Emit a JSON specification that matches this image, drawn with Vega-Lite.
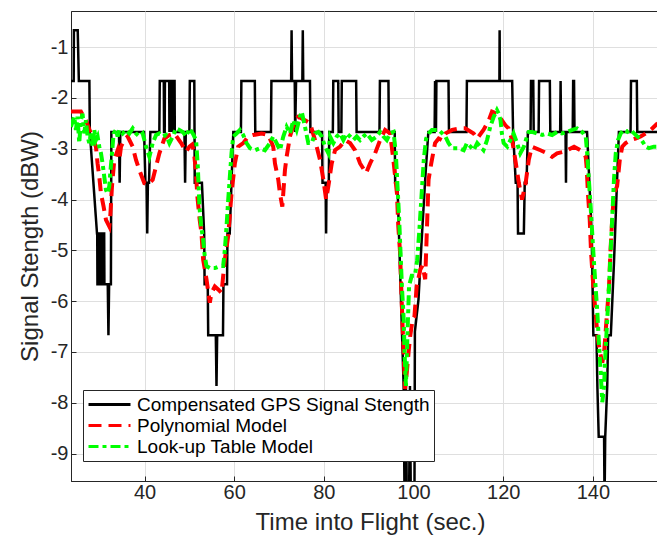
{
  "$schema": "https://vega.github.io/schema/vega-lite/v6.json",
  "width": 586,
  "height": 470,
  "autosize": {"type": "none"},
  "padding": {"left": 71, "top": 11, "right": 0, "bottom": 57},
  "background": "white",
  "config": {
    "view": {"stroke": "#262626", "strokeWidth": 1},
    "font": "Liberation Sans",
    "axis": {
      "domainColor": "#262626",
      "tickColor": "#262626",
      "gridColor": "#dfdfdf",
      "gridWidth": 1,
      "labelColor": "#262626",
      "titleColor": "#262626",
      "labelFont": "Liberation Sans",
      "titleFont": "Liberation Sans",
      "labelFontSize": 20,
      "titleFontSize": 24,
      "titleFontWeight": "normal",
      "tickSize": -5,
      "tickWidth": 1
    }
  },
  "datasets": {
    "d": [
      {"t":23.5,"v":-1.67,"s":"a"},{"t":24.2,"v":-1.67,"s":"a"},{"t":24.25,"v":-0.67,"s":"a"},{"t":25.1,"v":-0.67,"s":"a"},{"t":25.35,"v":-1.67,"s":"a"},{"t":27.7,"v":-1.67,"s":"a"},{"t":27.8,"v":-2.67,"s":"a"},{"t":29.4,"v":-4.67,"s":"a"},{"t":29.45,"v":-4.67,"s":"a"},{"t":29.5,"v":-5.67,"s":"a"},{"t":29.7,"v":-5.67,"s":"a"},{"t":29.75,"v":-4.67,"s":"a"},{"t":29.9,"v":-4.67,"s":"a"},{"t":29.95,"v":-5.67,"s":"a"},{"t":30.2,"v":-5.67,"s":"a"},{"t":30.25,"v":-4.67,"s":"a"},{"t":30.4,"v":-4.67,"s":"a"},{"t":30.45,"v":-5.67,"s":"a"},{"t":30.7,"v":-5.67,"s":"a"},{"t":30.75,"v":-4.67,"s":"a"},{"t":31.0,"v":-4.67,"s":"a"},{"t":31.05,"v":-5.67,"s":"a"},{"t":31.8,"v":-5.67,"s":"a"},{"t":31.95,"v":-6.67,"s":"a"},{"t":32.1,"v":-5.67,"s":"a"},{"t":32.5,"v":-5.67,"s":"a"},{"t":32.6,"v":-2.67,"s":"a"},{"t":34.3,"v":-2.67,"s":"a"},{"t":34.45,"v":-3.67,"s":"a"},{"t":34.6,"v":-2.67,"s":"a"},{"t":39.9,"v":-2.67,"s":"a"},{"t":40.2,"v":-3.67,"s":"a"},{"t":40.45,"v":-3.67,"s":"a"},{"t":40.6,"v":-4.67,"s":"a"},{"t":40.75,"v":-3.67,"s":"a"},{"t":41.0,"v":-3.67,"s":"a"},{"t":41.3,"v":-2.67,"s":"a"},{"t":43.3,"v":-2.67,"s":"a"},{"t":43.4,"v":-1.67,"s":"a"},{"t":44.3,"v":-1.67,"s":"a"},{"t":44.35,"v":-2.67,"s":"a"},{"t":44.5,"v":-2.67,"s":"a"},{"t":44.55,"v":-1.67,"s":"a"},{"t":45.5,"v":-1.67,"s":"a"},{"t":45.55,"v":-2.67,"s":"a"},{"t":45.65,"v":-1.67,"s":"a"},{"t":45.9,"v":-1.67,"s":"a"},{"t":45.95,"v":-2.67,"s":"a"},{"t":46.05,"v":-1.67,"s":"a"},{"t":46.3,"v":-1.67,"s":"a"},{"t":46.35,"v":-2.67,"s":"a"},{"t":46.45,"v":-1.67,"s":"a"},{"t":46.7,"v":-1.67,"s":"a"},{"t":46.75,"v":-2.67,"s":"a"},{"t":48.9,"v":-2.67,"s":"a"},{"t":49.05,"v":-3.67,"s":"a"},{"t":49.2,"v":-2.67,"s":"a"},{"t":50.0,"v":-2.67,"s":"a"},{"t":50.1,"v":-1.67,"s":"a"},{"t":51.1,"v":-1.67,"s":"a"},{"t":51.2,"v":-3.67,"s":"a"},{"t":52.8,"v":-3.67,"s":"a"},{"t":53.3,"v":-4.67,"s":"a"},{"t":53.4,"v":-5.67,"s":"a"},{"t":54.1,"v":-5.67,"s":"a"},{"t":54.2,"v":-6.67,"s":"a"},{"t":55.9,"v":-6.67,"s":"a"},{"t":56.05,"v":-7.67,"s":"a"},{"t":56.2,"v":-6.67,"s":"a"},{"t":57.5,"v":-6.67,"s":"a"},{"t":57.6,"v":-5.67,"s":"a"},{"t":58.4,"v":-5.67,"s":"a"},{"t":58.5,"v":-4.67,"s":"a"},{"t":59.0,"v":-4.67,"s":"a"},{"t":59.8,"v":-2.67,"s":"a"},{"t":61.5,"v":-2.67,"s":"a"},{"t":61.6,"v":-1.67,"s":"a"},{"t":64.6,"v":-1.67,"s":"a"},{"t":64.7,"v":-2.67,"s":"a"},{"t":68.2,"v":-2.67,"s":"a"},{"t":68.3,"v":-1.67,"s":"a"},{"t":72.7,"v":-1.67,"s":"a"},{"t":72.8,"v":-0.67,"s":"a"},{"t":72.9,"v":-1.67,"s":"a"},{"t":73.5,"v":-1.67,"s":"a"},{"t":73.6,"v":-2.67,"s":"a"},{"t":73.8,"v":-1.67,"s":"a"},{"t":75.2,"v":-1.67,"s":"a"},{"t":75.3,"v":-0.67,"s":"a"},{"t":75.4,"v":-1.67,"s":"a"},{"t":76.9,"v":-1.67,"s":"a"},{"t":77.0,"v":-2.67,"s":"a"},{"t":79.6,"v":-2.67,"s":"a"},{"t":79.7,"v":-3.67,"s":"a"},{"t":80.4,"v":-3.67,"s":"a"},{"t":80.5,"v":-4.67,"s":"a"},{"t":80.6,"v":-3.67,"s":"a"},{"t":81.1,"v":-3.67,"s":"a"},{"t":81.2,"v":-2.67,"s":"a"},{"t":82.0,"v":-2.67,"s":"a"},{"t":82.1,"v":-1.67,"s":"a"},{"t":83.2,"v":-1.67,"s":"a"},{"t":83.3,"v":-2.67,"s":"a"},{"t":83.9,"v":-2.67,"s":"a"},{"t":84.0,"v":-1.67,"s":"a"},{"t":87.2,"v":-1.67,"s":"a"},{"t":87.3,"v":-2.67,"s":"a"},{"t":92.4,"v":-2.67,"s":"a"},{"t":92.5,"v":-1.67,"s":"a"},{"t":94.4,"v":-1.67,"s":"a"},{"t":94.5,"v":-2.67,"s":"a"},{"t":95.8,"v":-2.67,"s":"a"},{"t":95.9,"v":-3.67,"s":"a"},{"t":96.4,"v":-3.67,"s":"a"},{"t":97.8,"v":-7.7,"s":"a"},{"t":98.0,"v":-10,"s":"a"},{"t":98.3,"v":-7.67,"s":"a"},{"t":98.5,"v":-10,"s":"a"},{"t":99.0,"v":-10,"s":"a"},{"t":99.2,"v":-7.67,"s":"a"},{"t":99.4,"v":-10,"s":"a"},{"t":100.2,"v":-10,"s":"a"},{"t":100.3,"v":-6.6,"s":"a"},{"t":101.1,"v":-5.97,"s":"a"},{"t":101.9,"v":-4.66,"s":"a"},{"t":102.6,"v":-3.6,"s":"a"},{"t":103.3,"v":-2.67,"s":"a"},{"t":104.7,"v":-2.67,"s":"a"},{"t":104.8,"v":-1.67,"s":"a"},{"t":104.85,"v":-2.67,"s":"a"},{"t":104.95,"v":-1.67,"s":"a"},{"t":105.0,"v":-2.67,"s":"a"},{"t":105.1,"v":-1.67,"s":"a"},{"t":107.8,"v":-1.67,"s":"a"},{"t":107.9,"v":-2.67,"s":"a"},{"t":111.8,"v":-2.67,"s":"a"},{"t":111.9,"v":-1.67,"s":"a"},{"t":119.15,"v":-1.67,"s":"a"},{"t":119.2,"v":-0.67,"s":"a"},{"t":119.25,"v":-1.67,"s":"a"},{"t":122.0,"v":-1.67,"s":"a"},{"t":122.2,"v":-2.67,"s":"a"},{"t":122.8,"v":-3.67,"s":"a"},{"t":123.2,"v":-3.67,"s":"a"},{"t":123.3,"v":-4.67,"s":"a"},{"t":124.6,"v":-4.67,"s":"a"},{"t":124.8,"v":-3.67,"s":"a"},{"t":125.2,"v":-3.67,"s":"a"},{"t":125.5,"v":-2.67,"s":"a"},{"t":126.1,"v":-2.67,"s":"a"},{"t":126.2,"v":-1.67,"s":"a"},{"t":126.7,"v":-1.67,"s":"a"},{"t":126.8,"v":-2.67,"s":"a"},{"t":127.9,"v":-2.67,"s":"a"},{"t":128.0,"v":-1.67,"s":"a"},{"t":130.4,"v":-1.67,"s":"a"},{"t":130.5,"v":-2.67,"s":"a"},{"t":132.7,"v":-2.67,"s":"a"},{"t":132.8,"v":-1.67,"s":"a"},{"t":132.9,"v":-2.67,"s":"a"},{"t":133.9,"v":-2.67,"s":"a"},{"t":134.0,"v":-3.67,"s":"a"},{"t":134.1,"v":-2.67,"s":"a"},{"t":135.5,"v":-2.67,"s":"a"},{"t":135.6,"v":-1.67,"s":"a"},{"t":135.8,"v":-1.67,"s":"a"},{"t":135.9,"v":-2.67,"s":"a"},{"t":138.7,"v":-2.67,"s":"a"},{"t":139.7,"v":-4.6,"s":"a"},{"t":139.85,"v":-5.25,"s":"a"},{"t":140.1,"v":-6.67,"s":"a"},{"t":140.8,"v":-6.67,"s":"a"},{"t":141.0,"v":-7.67,"s":"a"},{"t":141.3,"v":-8.67,"s":"a"},{"t":142.5,"v":-8.67,"s":"a"},{"t":142.6,"v":-10,"s":"a"},{"t":142.75,"v":-8.67,"s":"a"},{"t":143.2,"v":-7.67,"s":"a"},{"t":143.4,"v":-6.67,"s":"a"},{"t":144.0,"v":-6.67,"s":"a"},{"t":144.7,"v":-5.25,"s":"a"},{"t":145.8,"v":-2.67,"s":"a"},{"t":148.4,"v":-2.67,"s":"a"},{"t":148.5,"v":-1.67,"s":"a"},{"t":149.8,"v":-1.67,"s":"a"},{"t":149.9,"v":-2.67,"s":"a"},{"t":156,"v":-2.67,"s":"a"},

      {"t":23.57,"v":-2.27,"s":"b"},{"t":25.81,"v":-2.27,"s":"b"},{"t":26.93,"v":-2.44,"s":"b"},{"t":28.04,"v":-2.7,"s":"b"},{"t":29.16,"v":-2.96,"s":"b"},{"t":29.53,"v":-3.29,"s":"b"},{"t":29.91,"v":-3.55,"s":"b"},{"t":30.28,"v":-3.88,"s":"b"},{"t":30.87,"v":-4.14,"s":"b"},{"t":31.4,"v":-4.4,"s":"b"},{"t":32.14,"v":-4.53,"s":"b"},{"t":32.36,"v":-4.33,"s":"b"},{"t":32.74,"v":-3.74,"s":"b"},{"t":33.26,"v":-3.22,"s":"b"},{"t":34.0,"v":-3.03,"s":"b"},{"t":34.38,"v":-3.22,"s":"b"},{"t":34.75,"v":-2.96,"s":"b"},{"t":35.49,"v":-2.83,"s":"b"},{"t":36.24,"v":-2.76,"s":"b"},{"t":37.36,"v":-2.96,"s":"b"},{"t":38.1,"v":-3.22,"s":"b"},{"t":38.84,"v":-3.42,"s":"b"},{"t":39.96,"v":-3.68,"s":"b"},{"t":40.71,"v":-3.71,"s":"b"},{"t":41.82,"v":-3.61,"s":"b"},{"t":42.57,"v":-3.35,"s":"b"},{"t":43.31,"v":-3.09,"s":"b"},{"t":44.43,"v":-2.8,"s":"b"},{"t":45.55,"v":-2.73,"s":"b"},{"t":46.67,"v":-2.7,"s":"b"},{"t":48.16,"v":-2.89,"s":"b"},{"t":49.27,"v":-3.06,"s":"b"},{"t":50.02,"v":-2.96,"s":"b"},{"t":50.6,"v":-2.92,"s":"b"},{"t":51.0,"v":-3.05,"s":"b"},{"t":51.4,"v":-3.4,"s":"b"},{"t":51.8,"v":-3.95,"s":"b"},{"t":52.3,"v":-4.4,"s":"b"},{"t":52.7,"v":-4.66,"s":"b"},{"t":53.07,"v":-5.18,"s":"b"},{"t":53.82,"v":-5.57,"s":"b"},{"t":54.56,"v":-6.03,"s":"b"},{"t":54.93,"v":-5.84,"s":"b"},{"t":55.68,"v":-5.71,"s":"b"},{"t":56.42,"v":-5.77,"s":"b"},{"t":57.17,"v":-5.84,"s":"b"},{"t":57.91,"v":-5.18,"s":"b"},{"t":58.66,"v":-4.72,"s":"b"},{"t":59.4,"v":-3.88,"s":"b"},{"t":60.15,"v":-3.29,"s":"b"},{"t":60.89,"v":-2.96,"s":"b"},{"t":62.01,"v":-2.89,"s":"b"},{"t":63.13,"v":-2.76,"s":"b"},{"t":64.25,"v":-2.73,"s":"b"},{"t":66.11,"v":-2.7,"s":"b"},{"t":67.6,"v":-2.73,"s":"b"},{"t":68.71,"v":-2.96,"s":"b"},{"t":69.09,"v":-3.29,"s":"b"},{"t":69.83,"v":-3.61,"s":"b"},{"t":70.2,"v":-3.88,"s":"b"},{"t":70.73,"v":-4.14,"s":"b"},{"t":71.32,"v":-3.42,"s":"b"},{"t":71.69,"v":-3.16,"s":"b"},{"t":72.44,"v":-2.76,"s":"b"},{"t":73.56,"v":-2.44,"s":"b"},{"t":74.3,"v":-2.37,"s":"b"},{"t":75.79,"v":-2.44,"s":"b"},{"t":76.91,"v":-2.5,"s":"b"},{"t":78.03,"v":-2.83,"s":"b"},{"t":79.14,"v":-3.22,"s":"b"},{"t":79.89,"v":-3.61,"s":"b"},{"t":80.5,"v":-4.0,"s":"b"},{"t":81.0,"v":-3.74,"s":"b"},{"t":81.75,"v":-3.29,"s":"b"},{"t":82.49,"v":-3.03,"s":"b"},{"t":83.61,"v":-2.96,"s":"b"},{"t":84.73,"v":-2.83,"s":"b"},{"t":85.84,"v":-2.89,"s":"b"},{"t":86.96,"v":-3.03,"s":"b"},{"t":88.08,"v":-3.29,"s":"b"},{"t":89.42,"v":-3.48,"s":"b"},{"t":90.31,"v":-3.29,"s":"b"},{"t":91.43,"v":-3.09,"s":"b"},{"t":92.55,"v":-2.83,"s":"b"},{"t":93.66,"v":-2.63,"s":"b"},{"t":94.78,"v":-2.7,"s":"b"},{"t":95.5,"v":-3.22,"s":"b"},{"t":96.3,"v":-3.88,"s":"b"},{"t":96.6,"v":-4.53,"s":"b"},{"t":97.0,"v":-5.05,"s":"b"},{"t":97.25,"v":-5.71,"s":"b"},{"t":97.5,"v":-6.36,"s":"b"},{"t":97.8,"v":-7.01,"s":"b"},{"t":98.1,"v":-7.73,"s":"b"},{"t":98.5,"v":-7.4,"s":"b"},{"t":98.9,"v":-7.0,"s":"b"},{"t":99.25,"v":-6.69,"s":"b"},{"t":99.8,"v":-6.36,"s":"b"},{"t":100.2,"v":-6.3,"s":"b"},{"t":100.7,"v":-5.71,"s":"b"},{"t":101.5,"v":-5.38,"s":"b"},{"t":102.0,"v":-5.3,"s":"b"},{"t":102.6,"v":-5.57,"s":"b"},{"t":102.9,"v":-4.8,"s":"b"},{"t":103.35,"v":-3.61,"s":"b"},{"t":103.95,"v":-3.29,"s":"b"},{"t":104.8,"v":-2.89,"s":"b"},{"t":105.6,"v":-2.8,"s":"b"},{"t":106.3,"v":-2.83,"s":"b"},{"t":107.1,"v":-2.7,"s":"b"},{"t":108.6,"v":-2.63,"s":"b"},{"t":110.43,"v":-2.6,"s":"b"},{"t":111.5,"v":-2.6,"s":"b"},{"t":113.4,"v":-2.7,"s":"b"},{"t":114.2,"v":-2.8,"s":"b"},{"t":115.6,"v":-2.63,"s":"b"},{"t":116.8,"v":-2.44,"s":"b"},{"t":117.5,"v":-2.27,"s":"b"},{"t":118.6,"v":-2.31,"s":"b"},{"t":119.4,"v":-2.4,"s":"b"},{"t":120.5,"v":-2.54,"s":"b"},{"t":121.2,"v":-2.6,"s":"b"},{"t":122.0,"v":-2.83,"s":"b"},{"t":122.7,"v":-3.22,"s":"b"},{"t":123.5,"v":-3.68,"s":"b"},{"t":124.2,"v":-4.0,"s":"b"},{"t":125.0,"v":-3.68,"s":"b"},{"t":125.7,"v":-3.22,"s":"b"},{"t":126.4,"v":-2.96,"s":"b"},{"t":128.3,"v":-3.03,"s":"b"},{"t":129.8,"v":-3.09,"s":"b"},{"t":130.9,"v":-3.16,"s":"b"},{"t":132.0,"v":-3.09,"s":"b"},{"t":133.5,"v":-3.06,"s":"b"},{"t":134.3,"v":-3.03,"s":"b"},{"t":135.8,"v":-2.96,"s":"b"},{"t":137.2,"v":-3.03,"s":"b"},{"t":138.4,"v":-3.16,"s":"b"},{"t":138.6,"v":-3.35,"s":"b"},{"t":138.9,"v":-3.88,"s":"b"},{"t":139.3,"v":-4.4,"s":"b"},{"t":139.6,"v":-5.05,"s":"b"},{"t":140.1,"v":-5.71,"s":"b"},{"t":140.6,"v":-6.23,"s":"b"},{"t":141.1,"v":-6.75,"s":"b"},{"t":141.6,"v":-7.01,"s":"b"},{"t":142.1,"v":-7.21,"s":"b"},{"t":142.5,"v":-7.01,"s":"b"},{"t":143.05,"v":-6.36,"s":"b"},{"t":143.6,"v":-5.71,"s":"b"},{"t":143.9,"v":-5.05,"s":"b"},{"t":144.3,"v":-4.4,"s":"b"},{"t":144.7,"v":-3.88,"s":"b"},{"t":145.4,"v":-3.74,"s":"b"},{"t":146.0,"v":-3.22,"s":"b"},{"t":146.55,"v":-2.96,"s":"b"},{"t":147.3,"v":-2.89,"s":"b"},{"t":148.4,"v":-2.83,"s":"b"},{"t":149.5,"v":-2.8,"s":"b"},{"t":150.65,"v":-2.76,"s":"b"},{"t":151.8,"v":-2.7,"s":"b"},{"t":152.9,"v":-2.63,"s":"b"},{"t":154.45,"v":-2.5,"s":"b"},

      {"t":23.57,"v":-2.57,"s":"c"},{"t":24.32,"v":-2.37,"s":"c"},{"t":24.69,"v":-2.63,"s":"c"},{"t":25.06,"v":-2.37,"s":"c"},{"t":25.44,"v":-2.89,"s":"c"},{"t":25.81,"v":-2.44,"s":"c"},{"t":26.18,"v":-2.31,"s":"c"},{"t":26.55,"v":-2.7,"s":"c"},{"t":26.93,"v":-2.44,"s":"c"},{"t":27.3,"v":-2.76,"s":"c"},{"t":27.67,"v":-2.89,"s":"c"},{"t":28.04,"v":-2.7,"s":"c"},{"t":28.42,"v":-2.96,"s":"c"},{"t":28.79,"v":-2.63,"s":"c"},{"t":29.16,"v":-2.83,"s":"c"},{"t":29.53,"v":-2.76,"s":"c"},{"t":29.91,"v":-2.96,"s":"c"},{"t":30.28,"v":-3.09,"s":"c"},{"t":30.65,"v":-3.29,"s":"c"},{"t":31.02,"v":-3.55,"s":"c"},{"t":31.4,"v":-3.81,"s":"c"},{"t":31.77,"v":-3.88,"s":"c"},{"t":32.14,"v":-3.74,"s":"c"},{"t":32.36,"v":-3.48,"s":"c"},{"t":32.74,"v":-3.09,"s":"c"},{"t":33.11,"v":-2.7,"s":"c"},{"t":33.63,"v":-2.63,"s":"c"},{"t":34.0,"v":-2.76,"s":"c"},{"t":34.38,"v":-2.63,"s":"c"},{"t":35.12,"v":-2.7,"s":"c"},{"t":35.87,"v":-2.63,"s":"c"},{"t":36.61,"v":-2.7,"s":"c"},{"t":37.36,"v":-2.6,"s":"c"},{"t":38.1,"v":-2.7,"s":"c"},{"t":38.84,"v":-2.76,"s":"c"},{"t":39.59,"v":-2.7,"s":"c"},{"t":40.33,"v":-2.96,"s":"c"},{"t":41.08,"v":-3.16,"s":"c"},{"t":41.82,"v":-2.89,"s":"c"},{"t":42.57,"v":-2.73,"s":"c"},{"t":43.31,"v":-2.7,"s":"c"},{"t":44.06,"v":-2.76,"s":"c"},{"t":44.8,"v":-2.73,"s":"c"},{"t":45.55,"v":-2.89,"s":"c"},{"t":46.29,"v":-2.76,"s":"c"},{"t":47.04,"v":-2.6,"s":"c"},{"t":47.78,"v":-2.63,"s":"c"},{"t":48.53,"v":-2.67,"s":"c"},{"t":49.27,"v":-2.76,"s":"c"},{"t":50.02,"v":-2.6,"s":"c"},{"t":50.76,"v":-2.7,"s":"c"},{"t":51.5,"v":-2.83,"s":"c"},{"t":51.88,"v":-3.35,"s":"c"},{"t":52.25,"v":-4.14,"s":"c"},{"t":52.6,"v":-4.5,"s":"c"},{"t":53.07,"v":-4.79,"s":"c"},{"t":53.44,"v":-5.12,"s":"c"},{"t":53.82,"v":-5.31,"s":"c"},{"t":54.56,"v":-5.35,"s":"c"},{"t":55.68,"v":-5.35,"s":"c"},{"t":56.8,"v":-5.31,"s":"c"},{"t":57.54,"v":-5.31,"s":"c"},{"t":57.91,"v":-4.99,"s":"c"},{"t":58.29,"v":-4.53,"s":"c"},{"t":58.66,"v":-4.01,"s":"c"},{"t":59.03,"v":-3.55,"s":"c"},{"t":59.4,"v":-3.09,"s":"c"},{"t":59.78,"v":-2.76,"s":"c"},{"t":60.52,"v":-2.7,"s":"c"},{"t":61.27,"v":-2.63,"s":"c"},{"t":62.01,"v":-2.73,"s":"c"},{"t":62.76,"v":-2.89,"s":"c"},{"t":63.5,"v":-2.99,"s":"c"},{"t":64.62,"v":-3.03,"s":"c"},{"t":65.73,"v":-2.99,"s":"c"},{"t":66.85,"v":-3.03,"s":"c"},{"t":67.97,"v":-2.89,"s":"c"},{"t":68.71,"v":-2.76,"s":"c"},{"t":69.46,"v":-2.89,"s":"c"},{"t":70.2,"v":-3.03,"s":"c"},{"t":70.95,"v":-2.76,"s":"c"},{"t":71.69,"v":-2.57,"s":"c"},{"t":72.44,"v":-2.7,"s":"c"},{"t":73.18,"v":-2.44,"s":"c"},{"t":73.93,"v":-2.63,"s":"c"},{"t":74.67,"v":-2.37,"s":"c"},{"t":75.05,"v":-2.27,"s":"c"},{"t":75.79,"v":-2.57,"s":"c"},{"t":76.53,"v":-2.89,"s":"c"},{"t":77.28,"v":-2.89,"s":"c"},{"t":78.03,"v":-2.7,"s":"c"},{"t":78.77,"v":-2.67,"s":"c"},{"t":79.52,"v":-2.76,"s":"c"},{"t":80.26,"v":-2.96,"s":"c"},{"t":81.0,"v":-3.09,"s":"c"},{"t":81.37,"v":-2.76,"s":"c"},{"t":82.12,"v":-2.89,"s":"c"},{"t":82.86,"v":-2.76,"s":"c"},{"t":83.61,"v":-2.7,"s":"c"},{"t":84.35,"v":-2.83,"s":"c"},{"t":85.1,"v":-2.7,"s":"c"},{"t":85.84,"v":-2.76,"s":"c"},{"t":86.59,"v":-2.83,"s":"c"},{"t":87.33,"v":-2.76,"s":"c"},{"t":88.08,"v":-2.83,"s":"c"},{"t":88.82,"v":-2.76,"s":"c"},{"t":89.57,"v":-2.7,"s":"c"},{"t":90.68,"v":-2.83,"s":"c"},{"t":91.8,"v":-2.76,"s":"c"},{"t":92.55,"v":-2.67,"s":"c"},{"t":93.29,"v":-2.76,"s":"c"},{"t":94.04,"v":-2.83,"s":"c"},{"t":94.78,"v":-2.7,"s":"c"},{"t":95.53,"v":-2.67,"s":"c"},{"t":96.05,"v":-3.09,"s":"c"},{"t":96.5,"v":-3.87,"s":"c"},{"t":96.8,"v":-4.4,"s":"c"},{"t":97.1,"v":-5.05,"s":"c"},{"t":97.4,"v":-5.7,"s":"c"},{"t":97.8,"v":-6.36,"s":"c"},{"t":98.0,"v":-7.0,"s":"c"},{"t":98.3,"v":-7.67,"s":"c"},{"t":98.7,"v":-6.5,"s":"c"},{"t":99.0,"v":-5.7,"s":"c"},{"t":99.6,"v":-5.5,"s":"c"},{"t":100.3,"v":-5.5,"s":"c"},{"t":100.8,"v":-5.2,"s":"c"},{"t":101.3,"v":-4.6,"s":"c"},{"t":101.8,"v":-3.9,"s":"c"},{"t":102.3,"v":-3.2,"s":"c"},{"t":102.8,"v":-2.8,"s":"c"},{"t":103.4,"v":-2.7,"s":"c"},{"t":104.1,"v":-2.63,"s":"c"},{"t":105.6,"v":-2.63,"s":"c"},{"t":107.1,"v":-2.76,"s":"c"},{"t":107.8,"v":-2.89,"s":"c"},{"t":108.6,"v":-2.99,"s":"c"},{"t":110.1,"v":-2.99,"s":"c"},{"t":111.2,"v":-3.03,"s":"c"},{"t":111.9,"v":-2.89,"s":"c"},{"t":112.7,"v":-2.96,"s":"c"},{"t":113.4,"v":-3.03,"s":"c"},{"t":114.2,"v":-2.89,"s":"c"},{"t":114.9,"v":-2.96,"s":"c"},{"t":115.6,"v":-3.03,"s":"c"},{"t":116.4,"v":-2.83,"s":"c"},{"t":117.1,"v":-2.57,"s":"c"},{"t":117.9,"v":-2.37,"s":"c"},{"t":118.6,"v":-2.24,"s":"c"},{"t":119.0,"v":-2.31,"s":"c"},{"t":119.4,"v":-2.44,"s":"c"},{"t":119.7,"v":-2.7,"s":"c"},{"t":120.1,"v":-2.89,"s":"c"},{"t":120.9,"v":-2.96,"s":"c"},{"t":121.6,"v":-2.83,"s":"c"},{"t":122.3,"v":-2.7,"s":"c"},{"t":123.1,"v":-2.89,"s":"c"},{"t":123.8,"v":-3.09,"s":"c"},{"t":124.6,"v":-2.96,"s":"c"},{"t":125.3,"v":-2.76,"s":"c"},{"t":125.7,"v":-2.67,"s":"c"},{"t":126.4,"v":-2.67,"s":"c"},{"t":127.6,"v":-2.7,"s":"c"},{"t":128.7,"v":-2.73,"s":"c"},{"t":129.8,"v":-2.7,"s":"c"},{"t":130.9,"v":-2.73,"s":"c"},{"t":132.0,"v":-2.67,"s":"c"},{"t":133.1,"v":-2.7,"s":"c"},{"t":134.3,"v":-2.67,"s":"c"},{"t":135.4,"v":-2.63,"s":"c"},{"t":136.5,"v":-2.6,"s":"c"},{"t":137.6,"v":-2.67,"s":"c"},{"t":138.4,"v":-2.76,"s":"c"},{"t":138.73,"v":-3.09,"s":"c"},{"t":139.1,"v":-3.61,"s":"c"},{"t":139.5,"v":-4.14,"s":"c"},{"t":139.85,"v":-4.66,"s":"c"},{"t":140.2,"v":-5.18,"s":"c"},{"t":140.6,"v":-5.71,"s":"c"},{"t":141.0,"v":-6.23,"s":"c"},{"t":141.3,"v":-6.75,"s":"c"},{"t":141.7,"v":-7.34,"s":"c"},{"t":142.1,"v":-7.99,"s":"c"},{"t":142.5,"v":-7.67,"s":"c"},{"t":142.8,"v":-7.01,"s":"c"},{"t":143.2,"v":-6.36,"s":"c"},{"t":143.6,"v":-5.71,"s":"c"},{"t":143.95,"v":-5.05,"s":"c"},{"t":144.3,"v":-4.4,"s":"c"},{"t":144.7,"v":-3.61,"s":"c"},{"t":145.1,"v":-3.09,"s":"c"},{"t":145.6,"v":-2.83,"s":"c"},{"t":146.2,"v":-2.7,"s":"c"},{"t":146.9,"v":-2.63,"s":"c"},{"t":147.7,"v":-2.67,"s":"c"},{"t":148.4,"v":-2.63,"s":"c"},{"t":149.2,"v":-2.7,"s":"c"},{"t":149.9,"v":-2.76,"s":"c"},{"t":150.65,"v":-2.8,"s":"c"},{"t":151.8,"v":-2.96,"s":"c"},{"t":152.5,"v":-2.99,"s":"c"},{"t":153.6,"v":-2.96,"s":"c"},{"t":154.45,"v":-2.96,"s":"c"}
    ]
  },
  "data": {"name": "d"},
  "encoding": {
    "x": {
      "field": "t", "type": "quantitative",
      "scale": {"domain": [23.6, 154.3], "nice": false, "zero": false},
      "axis": {"values": [40, 60, 80, 100, 120, 140], "title": "Time into Flight (sec.)", "labelPadding": 6, "titleX": 299, "titleY": 48, "titleBaseline": "alphabetic", "titleAnchor": "middle"}
    },
    "y": {
      "field": "v", "type": "quantitative",
      "scale": {"domain": [-9.54, -0.29], "nice": false, "zero": false},
      "axis": {"values": [-9, -8, -7, -6, -5, -4, -3, -2, -1], "labelExpr": "'-' + abs(datum.value)", "title": "Signal Stength (dBW)", "labelPadding": 8, "titleX": -34, "titleY": 235, "titleBaseline": "alphabetic", "titleAnchor": "middle"}
    },
    "color": {
      "field": "s", "type": "nominal",
      "scale": {"domain": ["a", "b", "c"], "range": ["#000000", "#ff0000", "#00ff00"]},
      "legend": {"orient": "none", "legendX": 12, "legendY": 379, "title": null, "symbolType": "stroke", "symbolSize": 1764, "symbolStrokeWidth": 3, "labelFontSize": 19, "labelFont": "Liberation Sans", "labelColor": "#000000", "labelLimit": 600, "labelOffset": 5, "clipHeight": 21, "rowPadding": 0, "padding": 4, "fillColor": "white", "strokeColor": "#262626", "labelExpr": "datum.label == 'a' ? 'Compensated GPS Signal Stength' : datum.label == 'b' ? 'Polynomial Model' : 'Look-up Table Model'"}
    },
    "strokeDash": {
      "field": "s", "type": "nominal",
      "scale": {"domain": ["a", "b", "c"], "range": [[1, 0], [13, 7], [10, 4, 4, 4]]},
      "legend": {"orient": "none", "legendX": 12, "legendY": 379, "title": null, "symbolType": "stroke", "symbolSize": 1764, "symbolStrokeWidth": 3, "labelFontSize": 19, "labelFont": "Liberation Sans", "labelColor": "#000000", "labelLimit": 600, "labelOffset": 5, "clipHeight": 21, "rowPadding": 0, "padding": 4, "fillColor": "white", "strokeColor": "#262626", "labelExpr": "datum.label == 'a' ? 'Compensated GPS Signal Stength' : datum.label == 'b' ? 'Polynomial Model' : 'Look-up Table Model'"}
    }
  },
  "layer": [
    {"transform": [{"filter": "datum.s == 'a'"}], "mark": {"type": "line", "strokeWidth": 2.5, "clip": true}},
    {"transform": [{"filter": "datum.s == 'b'"}], "mark": {"type": "line", "strokeWidth": 4, "clip": true}},
    {"transform": [{"filter": "datum.s == 'c'"}], "mark": {"type": "line", "strokeWidth": 4, "clip": true}}
  ]
}
